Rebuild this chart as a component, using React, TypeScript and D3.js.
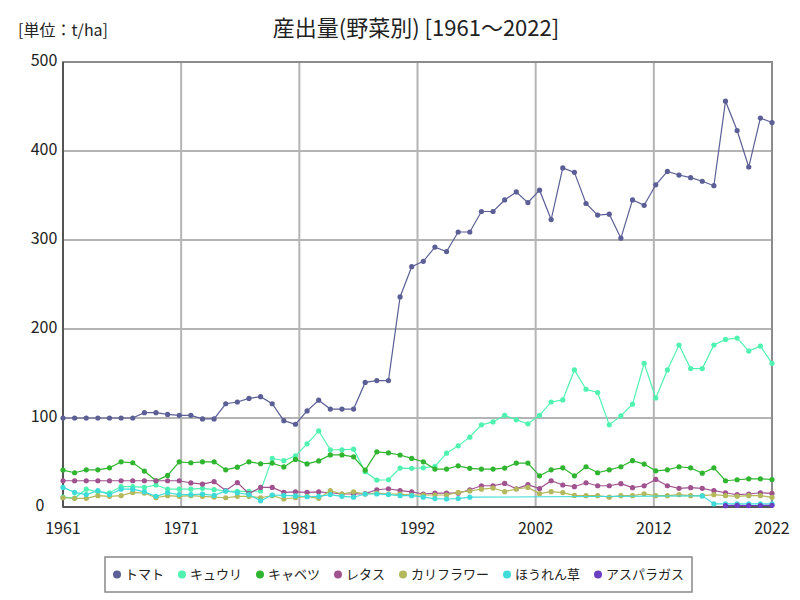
import React from "react";
import * as d3 from "d3";

const years: number[] = d3.range(1961, 2023);

const tomato: number[] = [
  100, 100, 100, 100, 100, 100, 100, 106, 106, 104,
  103, 103, 99, 99, 116, 118, 122, 124, 116, 97,
  93, 108, 120, 110, 110, 110, 140, 142, 142, 236,
  270, 276, 292, 287, 309, 309, 332, 332, 345, 354,
  342, 356, 323, 381, 376, 341, 328, 329, 302, 345,
  339, 362, 377, 373, 370, 366, 361, 456, 423, 382,
  437, 432,
];
const cucumber: number[] = [
  11, 10, 20, 17, 16, 23, 23, 22, 24.7, 20,
  20, 20, 21, 19.5, 18, 17.5, 17.5, 18, 54.6, 52,
  57.5, 71, 85.5, 64.3, 64.3, 65, 39.6, 30.3, 30.6, 43.7,
  43.5, 44, 45.6, 60.5, 68.7, 78.5, 92.3, 95.6, 103, 98,
  93.5, 103, 118, 120.3, 154, 132.3, 128.6, 92.3, 102.4, 115.5,
  161.4, 122.5, 154, 182, 155.5, 155.5, 182, 188.3, 189.8, 175.2,
  180.8, 161.4,
];
const cabbage: number[] = [
  41.5, 38.5, 41.8, 41.8, 44, 50.8, 49.7, 40.4, 29.5, 35.5,
  50.8, 49.7, 50.8, 50.8, 41.8, 44.8, 50.8, 48.6, 49.3, 45,
  53.4, 48.4, 51.8, 58.5, 58.5, 56.4, 41.4, 62, 60.9, 58.4,
  54.6, 50.8, 42.6, 42.6, 46.3, 43.4, 42.6, 42.6, 43.7, 49.3,
  49.3, 35, 41.8, 44, 35, 45.2, 38.5, 41.8, 45.2, 52,
  48.2, 40.7, 41.8, 45.2, 44, 38, 44, 29.5, 30.6, 31.7,
  31.7, 30.9,
];
const lettuce: number[] = [
  29.5, 29.5, 29.5, 29.5, 29.5, 29.5, 29.5, 29.5, 29.5, 29.5,
  29.5, 27, 25.8, 28.4, 18.5, 27.5, 15, 22, 22, 16.4,
  17, 16.4, 17, 16, 14.6, 14.6, 15, 19.4, 20.5, 18.3,
  17, 14.6, 15.5, 15.5, 15.5, 19.4, 23.9, 23.9, 26.5, 20.5,
  25.2, 20.8, 29.5, 24.7, 22.8, 27.2, 23.9, 23.9, 26.2, 21.7,
  23.9, 31, 23.9, 21, 21.7, 21, 18.3, 16, 13.8, 14.6,
  16, 15.3,
];
const cauliflower: number[] = [
  10.4, 9.7, 9.7, 12.7, 12, 12.7, 16.4, 15.7, 10.4, 12.7,
  12, 12.7, 12, 11.2, 10.4, 12, 12, 10.4, 12.7, 9,
  10.4, 12, 9.7, 18.3, 14.6, 17, 14.6, 15.5, 14.6, 14.5,
  13.5, 13.5, 13.5, 13.5, 16.4, 18, 20, 21.3, 17.2, 20.2,
  22, 15, 17.2, 16.2, 13, 12.7, 12.7, 11, 12.7, 12.7,
  14.9, 12.7, 12.7, 13.8, 12.7, 12.7, 13.8, 12.7, 12, 12.7,
  12.7, 10.9,
];
const spinach: (number | null)[] = [
  22, 16.4, 14, 18.3, 14, 20, 20, 17, 12, 16,
  14, 14, 14.5, 13, 18, 16, 14, 7, 13.5, 13,
  12.5, 11.5, 12, 14, 12, 11, 14.6, 14.6, 14, 12.7,
  12.7, 11, 9.5, 9, 9.5, 11, null, null, null, null,
  null, null, null, null, null, null, null, null, null, null,
  null, null, null, null, null, 12.5, 3.4, 3.4, 3.4, 3.4,
  3.4, 3.4,
];
const asparagus: (number | null)[] = [
  null, null, null, null, null, null, null, null, null, null,
  null, null, null, null, null, null, null, null, null, null,
  null, null, null, null, null, null, null, null, null, null,
  null, null, null, null, null, null, null, null, null, null,
  null, null, null, null, null, null, null, null, null, null,
  null, null, null, null, null, null, null, 1.5, 1.8, 1.6,
  1.7, 1.9,
];

const seriesNames: string[] = ["トマト", "キュウリ", "キャベツ", "レタス", "カリフラワー", "ほうれん草", "アスパラガス"];
const seriesColors: string[] = ["#5b5f95", "#4ff2b0", "#2fb52f", "#a0528f", "#b3b85c", "#3ddcd8", "#6b3fc2"];
const seriesValues: (number | null)[][] = [tomato, cucumber, cabbage, lettuce, cauliflower, spinach, asparagus];

const yTicks: number[] = [0, 100, 200, 300, 400, 500];
const titleText = "産出量(野菜別) [1961～2022]";
const unitText = "[単位：t/ha]";

const W = 800;
const H = 600;
const M = { left: 63, right: 772, top: 62, bottom: 507 };
const FONT = "'Noto Sans CJK JP', 'Noto Sans', sans-serif";

function measure(text: string, size: number): number {
  if (typeof document === "undefined") return text.length * size;
  const c = document.createElement("canvas");
  const ctx = c.getContext("2d");
  if (!ctx) return text.length * size;
  ctx.font = `${size}px ${FONT}`;
  return ctx.measureText(text).width;
}

export default function App() {
  const x = d3.scaleLinear().domain([1961, 2022]).range([M.left, M.right]);
  const y = d3.scaleLinear().domain([0, 500]).range([M.bottom, M.top]);
  const xTicks = d3.range(7).map((k) => 1961 + (k * 61) / 6);

  const line = d3
    .line<[number, number | null]>()
    .x((d) => x(d[0]))
    .y((d) => y(d[1] as number));

  // legend layout
  const legFont = 13;
  const dotR = 4;
  const dotGap = 4;
  const itemGap = 14;
  const widths = seriesNames.map((n) => dotR * 2 + dotGap + measure(n, legFont));
  const total = d3.sum(widths) + itemGap * (seriesNames.length - 1);
  const legPad = 8;
  const legW = total + legPad * 2;
  const legX = 398.5 - legW / 2;
  const legY = 557;
  const legH = 35;
  let cursor = legX + legPad;
  const legItems = seriesNames.map((n, i) => {
    const it = { name: n, color: seriesColors[i], x: cursor };
    cursor += widths[i] + itemGap;
    return it;
  });

  return (
    <svg width={W} height={H} style={{ display: "block", position: "absolute", left: 0, top: 0, background: "#fff" }} fontFamily={FONT}>
      <rect x={0} y={0} width={W} height={H} fill="#fff" />
      <text x={416} y={36} textAnchor="middle" fontSize={22} fill="#222">{titleText}</text>
      <text x={18} y={36} fontSize={16} fill="#222">{unitText}</text>

      {/* grid */}
      {yTicks.map((t) => (
        <line key={"gy" + t} x1={M.left} x2={M.right} y1={y(t)} y2={y(t)} stroke="#b4b4b4" strokeWidth={2} />
      ))}
      {xTicks.map((t, i) => (
        <line key={"gx" + i} x1={x(t)} x2={x(t)} y1={M.top} y2={M.bottom} stroke="#b4b4b4" strokeWidth={2} />
      ))}
      {/* frame */}
      <rect x={M.left} y={M.top} width={M.right - M.left} height={M.bottom - M.top} fill="none" stroke="#8c8c8c" strokeWidth={2} />
      <line x1={M.left} x2={M.left} y1={M.top} y2={M.bottom} stroke="#555" strokeWidth={2} />
      <line x1={M.left} x2={M.right} y1={M.bottom} y2={M.bottom} stroke="#555" strokeWidth={2} />

      {/* y labels */}
      {yTicks.map((t) => (
        <text key={"ly" + t} x={t === 0 ? 40 : 44} y={y(t) - 1} dy="0.34em" textAnchor="middle" fontSize={16} fill="#222">{t}</text>
      ))}
      {xTicks.map((t, i) => (
        <text key={"lx" + i} x={x(t)} y={534} textAnchor="middle" fontSize={16} fill="#222">{Math.round(t)}</text>
      ))}

      {/* series */}
      {seriesValues.map((vals, si) => {
        const pts: [number, number | null][] = years.map((yr, i) => [yr, vals[i]] as [number, number | null]).filter((d) => d[1] !== null);
        return (
          <g key={"s" + si}>
            <path d={line(pts) || ""} fill="none" stroke={seriesColors[si]} strokeWidth={1.2} />
            {years.map((yr, i) =>
              vals[i] === null ? null : (
                <circle key={i} cx={x(yr)} cy={y(vals[i] as number)} r={2.6} fill={seriesColors[si]} />
              )
            )}
          </g>
        );
      })}

      {/* legend */}
      <rect x={legX} y={legY} width={legW} height={legH} fill="#fff" stroke="#888" strokeWidth={1.5} />
      {legItems.map((it) => (
        <g key={it.name}>
          <circle cx={it.x + dotR} cy={legY + legH / 2} r={dotR} fill={it.color} />
          <text x={it.x + dotR * 2 + dotGap} y={legY + legH / 2} dy="0.36em" fontSize={legFont} fill="#222">{it.name}</text>
        </g>
      ))}
    </svg>
  );
}
